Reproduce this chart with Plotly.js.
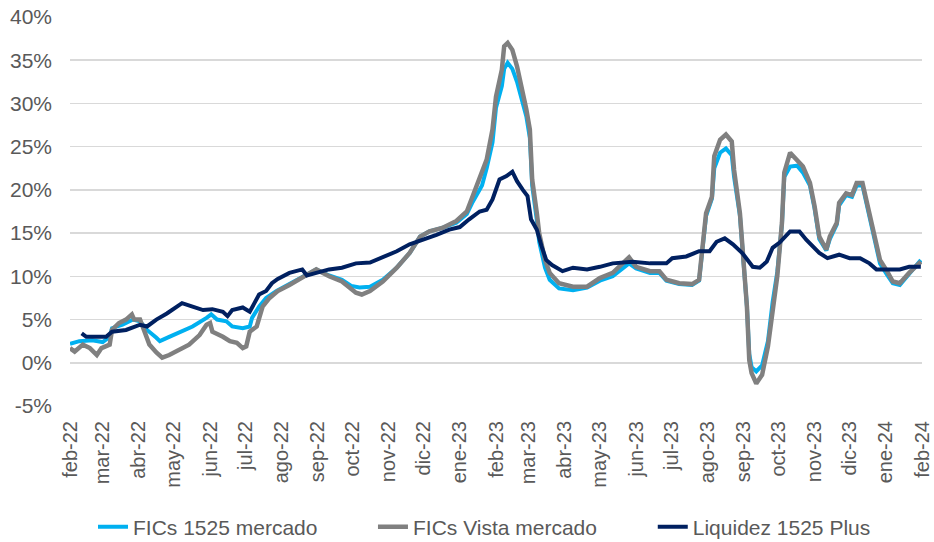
<!DOCTYPE html>
<html>
<head>
<meta charset="utf-8">
<script src="https://cdn.plot.ly/plotly-3.0.1.min.js"></script>
<style>html,body{margin:0;padding:0;background:#fff;}#chart{width:934px;height:542px;}</style>
</head>
<body>
<div id="chart"></div>
<script>
// ---- Data ----
const seriesNames = ['FICs 1525 mercado', 'FICs Vista mercado', 'Liquidez 1525 Plus'];

const tickLabels = ['feb-22','mar-22','abr-22','may-22','jun-22','jul-22','ago-22','sep-22','oct-22','nov-22','dic-22','ene-23',
  'feb-23','mar-23','abr-23','may-23','jun-23','jul-23','ago-23','sep-23','oct-23','nov-23','dic-23','ene-24','feb-24'];
const tickDates = ['2022-02-01','2022-03-01','2022-04-01','2022-05-01','2022-06-01','2022-07-01','2022-08-01','2022-09-01',
  '2022-10-01','2022-11-01','2022-12-01','2023-01-01','2023-02-01','2023-03-01','2023-04-01','2023-05-01','2023-06-01',
  '2023-07-01','2023-08-01','2023-09-01','2023-10-01','2023-11-01','2023-12-01','2024-01-01','2024-02-01'];
const yTickValues = [-5, 0, 5, 10, 15, 20, 25, 30, 35, 40];
const yTickLabels = ['-5%', '0%', '5%', '10%', '15%', '20%', '25%', '30%', '35%', '40%'];

const fics1525Dates = ['2022-02-01','2022-02-09','2022-02-20','2022-03-01','2022-03-07','2022-03-09','2022-03-18','2022-03-27',
  '2022-04-02','2022-04-08','2022-04-16','2022-04-19','2022-04-27','2022-05-06','2022-05-17','2022-05-29','2022-06-02',
  '2022-06-07','2022-06-15','2022-06-20','2022-06-29','2022-07-05','2022-07-07','2022-07-13','2022-07-19','2022-07-28',
  '2022-08-08','2022-08-19','2022-08-31','2022-09-11','2022-09-22','2022-09-30','2022-10-07','2022-10-16','2022-10-27',
  '2022-11-08','2022-11-19','2022-11-28','2022-12-06','2022-12-17','2022-12-29','2023-01-07','2023-01-12','2023-01-20',
  '2023-01-24','2023-01-29','2023-02-01','2023-02-06','2023-02-08','2023-02-11','2023-02-15','2023-02-19','2023-02-23',
  '2023-02-27','2023-03-02','2023-03-04','2023-03-08','2023-03-10','2023-03-15','2023-03-19','2023-03-27','2023-04-08',
  '2023-04-20','2023-05-01','2023-05-12','2023-05-26','2023-06-01','2023-06-13','2023-06-21','2023-06-27','2023-07-08',
  '2023-07-19','2023-07-25','2023-07-28','2023-07-31','2023-08-05','2023-08-07','2023-08-12','2023-08-17','2023-08-22',
  '2023-08-24','2023-08-29','2023-09-01','2023-09-04','2023-09-06','2023-09-08','2023-09-12','2023-09-17','2023-09-22',
  '2023-09-26','2023-09-30','2023-10-04','2023-10-06','2023-10-11','2023-10-17','2023-10-22','2023-10-28','2023-11-01',
  '2023-11-05','2023-11-11','2023-11-14','2023-11-20','2023-11-22','2023-11-28','2023-12-03','2023-12-07','2023-12-12',
  '2023-12-16','2023-12-21','2023-12-27','2024-01-02','2024-01-07','2024-01-13','2024-01-21','2024-01-31'];
const fics1525Values = [2.2,2.5,2.6,2.4,3.0,4.0,4.4,5.0,
  4.8,3.8,2.9,2.5,3.0,3.5,4.2,5.2,5.6,
  5.0,4.8,4.2,4.0,4.2,5.2,6.5,7.5,8.3,
  9.1,9.9,10.8,10.1,9.6,8.9,8.7,8.8,9.6,
  11.0,12.7,14.6,15.2,15.6,16.2,17.2,18.6,20.5,
  22.5,25.5,29.5,32.0,34.0,34.7,34.0,32.5,30.5,
  28.5,26.0,20.5,16.5,14.0,11.0,9.6,8.6,8.4,
  8.7,9.5,10.0,11.5,10.9,10.4,10.4,9.5,9.1,
  9.0,9.5,13.0,17.0,19.0,22.5,24.3,24.8,24.0,
  21.5,17.0,11.5,6.5,1.0,-0.5,-1.0,-0.3,2.5,
  7.0,10.5,16.0,21.5,22.7,22.8,22.0,20.5,17.8,
  14.3,13.0,14.3,16.0,18.2,19.4,19.2,20.5,20.5,
  18.0,15.0,11.5,10.2,9.2,9.0,10.3,11.9];

const ficsVistaDates = ['2022-02-01','2022-02-05','2022-02-12','2022-02-18','2022-02-24','2022-02-28','2022-03-07','2022-03-09',
  '2022-03-15','2022-03-21','2022-03-26','2022-03-28','2022-04-02','2022-04-06','2022-04-10','2022-04-16','2022-04-21',
  '2022-04-27','2022-05-06','2022-05-14','2022-05-23','2022-05-29','2022-06-01','2022-06-03','2022-06-12','2022-06-18',
  '2022-06-24','2022-06-29','2022-07-02','2022-07-05','2022-07-11','2022-07-16','2022-07-22','2022-07-29','2022-08-08',
  '2022-08-19','2022-08-31','2022-09-11','2022-09-22','2022-10-04','2022-10-09','2022-10-16','2022-10-27','2022-11-08',
  '2022-11-19','2022-11-28','2022-12-06','2022-12-17','2022-12-29','2023-01-07','2023-01-12','2023-01-18','2023-01-24',
  '2023-01-29','2023-02-01','2023-02-06','2023-02-08','2023-02-11','2023-02-15','2023-02-19','2023-02-23','2023-02-27',
  '2023-03-02','2023-03-04','2023-03-08','2023-03-10','2023-03-15','2023-03-19','2023-03-27','2023-04-08','2023-04-20',
  '2023-05-01','2023-05-12','2023-05-26','2023-06-01','2023-06-13','2023-06-21','2023-06-27','2023-07-08','2023-07-19',
  '2023-07-25','2023-07-28','2023-07-31','2023-08-05','2023-08-07','2023-08-12','2023-08-17','2023-08-22','2023-08-24',
  '2023-08-29','2023-09-01','2023-09-04','2023-09-06','2023-09-08','2023-09-12','2023-09-17','2023-09-22','2023-09-26',
  '2023-09-30','2023-10-04','2023-10-06','2023-10-11','2023-10-17','2023-10-22','2023-10-28','2023-11-01','2023-11-05',
  '2023-11-11','2023-11-14','2023-11-20','2023-11-22','2023-11-28','2023-12-03','2023-12-07','2023-12-12','2023-12-16',
  '2023-12-21','2023-12-27','2024-01-02','2024-01-07','2024-01-13','2024-01-21','2024-01-31'];
const ficsVistaValues = [1.7,1.3,2.1,1.7,0.9,1.7,2.1,3.8,
  4.6,5.0,5.6,5.0,5.0,3.5,2.1,1.2,0.6,
  0.9,1.5,2.1,3.2,4.4,4.6,3.6,3.0,2.5,
  2.3,1.7,1.9,3.6,4.2,6.5,7.5,8.3,9.0,
  9.8,10.8,10.0,9.4,8.1,7.9,8.3,9.4,11.0,
  12.7,14.6,15.2,15.6,16.4,17.5,19.2,21.2,23.5,
  27.0,30.8,33.9,36.6,37.0,36.2,34.3,32.0,29.3,
  27.0,21.2,17.3,15.0,11.9,10.4,9.2,8.8,8.8,
  9.8,10.4,12.2,11.1,10.6,10.6,9.6,9.2,9.1,
  9.6,13.5,17.3,19.2,23.9,25.8,26.4,25.6,22.3,
  17.3,11.1,6.5,0.3,-1.2,-2.4,-1.4,1.9,6.5,
  10.0,16.2,22.0,24.3,23.5,22.7,20.8,18.1,14.6,
  13.1,14.6,16.2,18.5,19.6,19.4,20.8,20.8,18.5,
  15.4,11.9,10.6,9.4,9.2,10.4,11.7];

const liquidezDates = ['2022-02-11','2022-02-15','2022-03-04','2022-03-09','2022-03-21','2022-04-02','2022-04-08','2022-04-16',
  '2022-04-25','2022-05-03','2022-05-08','2022-05-17','2022-05-26','2022-06-03','2022-06-12','2022-06-16','2022-06-20',
  '2022-06-29','2022-07-05','2022-07-09','2022-07-13','2022-07-19','2022-07-24','2022-07-29','2022-08-08','2022-08-19',
  '2022-08-23','2022-08-31','2022-09-11','2022-09-22','2022-10-04','2022-10-16','2022-10-27','2022-11-08','2022-11-19',
  '2022-11-30','2022-12-12','2022-12-23','2023-01-01','2023-01-09','2023-01-18','2023-01-24','2023-01-29','2023-02-04',
  '2023-02-10','2023-02-15','2023-02-19','2023-02-24','2023-02-28','2023-03-03','2023-03-08','2023-03-12','2023-03-16',
  '2023-03-21','2023-03-30','2023-04-08','2023-04-20','2023-05-01','2023-05-12','2023-05-29','2023-06-13','2023-06-27',
  '2023-07-02','2023-07-14','2023-07-25','2023-08-03','2023-08-09','2023-08-16','2023-08-23','2023-08-31','2023-09-05',
  '2023-09-09','2023-09-15','2023-09-21','2023-09-26','2023-10-02','2023-10-11','2023-10-19','2023-10-25','2023-10-30',
  '2023-11-05','2023-11-12','2023-11-22','2023-12-01','2023-12-10','2023-12-18','2023-12-24','2024-01-02','2024-01-13',
  '2024-01-21','2024-01-31'];
const liquidezValues = [3.4,3.0,3.0,3.6,3.8,4.4,4.2,5.0,
  5.7,6.4,6.9,6.5,6.1,6.2,5.9,5.4,6.1,
  6.4,5.9,6.9,7.9,8.3,9.2,9.7,10.4,10.8,
  10.1,10.4,10.8,11.0,11.5,11.6,12.2,12.9,13.7,
  14.2,14.8,15.4,15.7,16.6,17.5,17.7,18.9,21.2,
  21.6,22.1,21.0,20.0,19.3,16.6,15.4,13.5,11.9,
  11.3,10.6,11.0,10.8,11.1,11.5,11.7,11.5,11.5,
  12.1,12.3,12.9,12.9,14.0,14.4,13.7,12.7,11.9,
  11.1,11.0,11.7,13.3,13.9,15.2,15.2,14.2,13.5,
  12.7,12.1,12.5,12.1,12.1,11.5,10.8,10.8,10.8,
  11.1,11.1];

const colors = ['#00B0F0', '#808080', '#002060'];
const widths = [4, 4.5, 4];
const FONT = 'Liberation Sans, Arial, sans-serif';
const TXT = '#595959';

const xs = [fics1525Dates, ficsVistaDates, liquidezDates];
const ys = [fics1525Values, ficsVistaValues, liquidezValues];
const legendIds = ['legend', 'legend2', 'legend3'];

const traces = seriesNames.map((name, i) => ({
  type: 'scatter', mode: 'lines', name: name,
  x: xs[i], y: ys[i],
  line: {color: colors[i], width: widths[i], shape: 'linear'},
  legend: legendIds[i],
  hoverinfo: 'skip'
}));

function legendAt(x) {
  return {orientation: 'h', x: x, xanchor: 'left', y: -0.311, yanchor: 'middle',
    font: {family: FONT, size: 21, color: TXT}, bgcolor: 'rgba(0,0,0,0)', borderwidth: 0};
}

const layout = {
  width: 934, height: 542,
  margin: {l: 70, r: 12, t: 17, b: 136, autoexpand: false},
  paper_bgcolor: '#ffffff', plot_bgcolor: '#ffffff',
  showlegend: true,
  font: {family: FONT, size: 21, color: TXT},
  xaxis: {
    type: 'date', range: ['2022-02-01', '2024-02-01'],
    tickmode: 'array', tickvals: tickDates, ticktext: tickLabels,
    tickangle: -90, showgrid: false, zeroline: false, showline: false,
    ticks: '', ticklabelstandoff: 10, automargin: false,
    tickfont: {family: FONT, size: 20, color: TXT}
  },
  yaxis: {
    range: [-5, 40], tickmode: 'array', tickvals: yTickValues, ticktext: yTickLabels,
    showgrid: true, gridcolor: '#d9d9d9', gridwidth: 1.5,
    zeroline: false, showline: false, ticks: '', ticklabelstandoff: 17, automargin: false,
    tickfont: {family: FONT, size: 21, color: TXT}
  },
  legend: legendAt(0.027),
  legend2: legendAt(0.3556),
  legend3: legendAt(0.684)
};

Plotly.newPlot('chart', traces, layout, {staticPlot: true, displayModeBar: false});
</script>
</body>
</html>
